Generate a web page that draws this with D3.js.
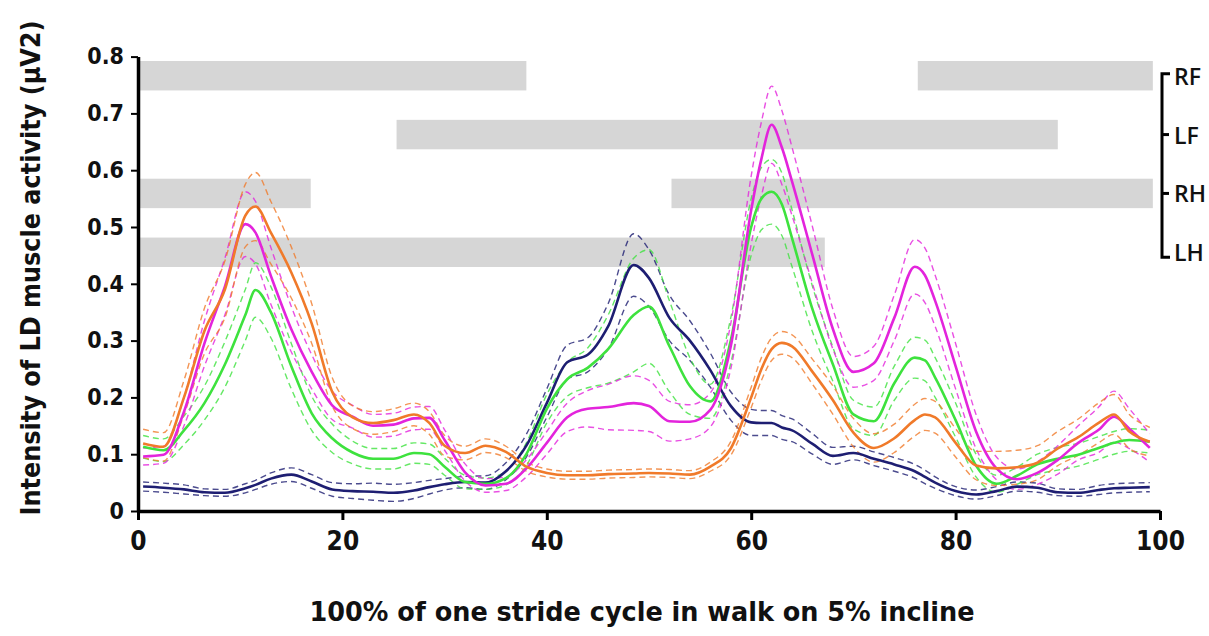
<!DOCTYPE html>
<html>
<head>
<meta charset="utf-8">
<script src="https://cdn.jsdelivr.net/npm/d3@7"></script>
<style>
  body { margin: 0; background: #fff; }
  .axis text { font-family: "Liberation Sans Narrow", "Arial Narrow", "DejaVu Sans Condensed", sans-serif; font-weight: bold; fill: #111; }
  .axis path, .axis line { stroke: #000; }
  .ttl { font-family: "Liberation Sans Narrow", "Arial Narrow", "DejaVu Sans Condensed", sans-serif; font-weight: bold; fill: #111; }
  .limb { font-family: "Open Sans", "Noto Sans", sans-serif; font-weight: 600; fill: #111; }
</style>
</head>
<body>
<div id="chart"></div>
<script>
// % of stride cycle (shared sample points)
var stride = [0.5, 2.5, 4.5, 6.5, 8.5, 10.5, 11.5, 13, 15, 17, 19, 21, 23, 25, 27,
  28.5, 30, 32, 34, 36, 38, 40, 42, 44, 46, 48.5, 50, 52, 54, 56,
  58, 60, 61, 62, 63, 64, 66, 68, 70, 72, 74, 76, 77, 78, 80,
  82, 84, 86, 88, 90, 92, 94, 95.5, 97, 99];

// mean LD intensity per series
var orangeMean = [0.119, 0.113, 0.2, 0.317, 0.39, 0.52, 0.536, 0.49, 0.42, 0.33, 0.21, 0.165, 0.155, 0.16, 0.17,
  0.155, 0.115, 0.102, 0.115, 0.104, 0.078, 0.067, 0.063, 0.063, 0.065, 0.066, 0.067, 0.066, 0.064, 0.078,
  0.11, 0.2, 0.25, 0.285, 0.296, 0.29, 0.245, 0.195, 0.138, 0.111, 0.128, 0.16, 0.17, 0.165, 0.12,
  0.08, 0.075, 0.077, 0.085, 0.11, 0.13, 0.155, 0.17, 0.14, 0.122];
var magentaMean = [0.096, 0.099, 0.175, 0.295, 0.395, 0.505, 0.49, 0.414, 0.32, 0.245, 0.186, 0.166, 0.15, 0.152, 0.163,
  0.164, 0.125, 0.068, 0.045, 0.048, 0.075, 0.12, 0.165, 0.18, 0.183, 0.19, 0.185, 0.158, 0.157, 0.178,
  0.29, 0.53, 0.62, 0.68, 0.64, 0.58, 0.45, 0.32, 0.245, 0.26, 0.34, 0.43, 0.415, 0.37, 0.255,
  0.14, 0.075, 0.056, 0.067, 0.09, 0.12, 0.143, 0.166, 0.145, 0.111];
var greenMean = [0.113, 0.107, 0.142, 0.19, 0.258, 0.345, 0.389, 0.35, 0.255, 0.172, 0.128, 0.103, 0.092, 0.092, 0.102,
  0.1, 0.078, 0.051, 0.048, 0.058, 0.1, 0.18, 0.232, 0.252, 0.285, 0.345, 0.36, 0.29, 0.22, 0.193,
  0.3, 0.5, 0.55, 0.562, 0.54, 0.48, 0.355, 0.258, 0.17, 0.158, 0.225, 0.27, 0.265, 0.235, 0.16,
  0.08, 0.048, 0.062, 0.082, 0.092, 0.099, 0.111, 0.12, 0.125, 0.122];
var navyMean = [0.043, 0.041, 0.038, 0.033, 0.032, 0.04, 0.046, 0.057, 0.064, 0.052, 0.038, 0.035, 0.034, 0.032, 0.036,
  0.042, 0.047, 0.051, 0.05, 0.07, 0.115, 0.19, 0.262, 0.275, 0.325, 0.433, 0.41, 0.34, 0.3, 0.248,
  0.185, 0.156, 0.155, 0.155, 0.147, 0.142, 0.118, 0.097, 0.102, 0.092, 0.082, 0.07, 0.06, 0.05, 0.035,
  0.029, 0.035, 0.043, 0.041, 0.033, 0.032, 0.037, 0.04, 0.041, 0.042];

// standard error (dashed lines = mean +/- SE)
var orangeSE = [0.025, 0.025, 0.03, 0.04, 0.05, 0.055, 0.06, 0.055, 0.045, 0.035, 0.025, 0.02, 0.02, 0.02, 0.02,
  0.02, 0.018, 0.012, 0.012, 0.01, 0.008, 0.007, 0.007, 0.007, 0.007, 0.007, 0.007, 0.007, 0.007, 0.008,
  0.012, 0.018, 0.02, 0.02, 0.02, 0.02, 0.022, 0.025, 0.025, 0.025, 0.025, 0.028, 0.028, 0.028, 0.025,
  0.025, 0.03, 0.03, 0.03, 0.03, 0.032, 0.035, 0.035, 0.03, 0.025];
var magentaSE = [0.015, 0.015, 0.025, 0.04, 0.05, 0.057, 0.055, 0.05, 0.04, 0.03, 0.025, 0.02, 0.02, 0.02, 0.02,
  0.02, 0.018, 0.015, 0.012, 0.012, 0.015, 0.02, 0.025, 0.032, 0.04, 0.048, 0.045, 0.035, 0.03, 0.03,
  0.04, 0.06, 0.065, 0.068, 0.065, 0.06, 0.05, 0.035, 0.027, 0.03, 0.04, 0.048, 0.048, 0.045, 0.04,
  0.03, 0.02, 0.018, 0.02, 0.025, 0.03, 0.04, 0.045, 0.035, 0.025];
var greenSE = [0.02, 0.02, 0.025, 0.03, 0.04, 0.045, 0.048, 0.045, 0.04, 0.03, 0.025, 0.02, 0.018, 0.018, 0.018,
  0.018, 0.015, 0.012, 0.01, 0.012, 0.02, 0.025, 0.03, 0.035, 0.06, 0.1, 0.1, 0.08, 0.05, 0.03,
  0.04, 0.05, 0.055, 0.057, 0.055, 0.05, 0.04, 0.03, 0.025, 0.025, 0.03, 0.036, 0.036, 0.035, 0.03,
  0.02, 0.015, 0.015, 0.018, 0.02, 0.02, 0.02, 0.02, 0.02, 0.02];
var navySE = [0.008, 0.008, 0.008, 0.006, 0.006, 0.008, 0.008, 0.01, 0.012, 0.012, 0.012, 0.013, 0.015, 0.015, 0.014,
  0.012, 0.01, 0.01, 0.012, 0.015, 0.02, 0.025, 0.03, 0.03, 0.04, 0.055, 0.05, 0.04, 0.035, 0.03,
  0.025, 0.023, 0.022, 0.022, 0.021, 0.02, 0.018, 0.015, 0.012, 0.012, 0.012, 0.012, 0.012, 0.01, 0.008,
  0.008, 0.008, 0.008, 0.008, 0.006, 0.006, 0.008, 0.008, 0.008, 0.008];

// stance phases of each limb (% of stride)
var limbs = ["RF", "LF", "RH", "LH"];
var stance = [["RF", 0, 38], ["RF", 76.3, 99.3], ["LF", 25.3, 90],
  ["RH", 0, 16.9], ["RH", 52.2, 99.3], ["LH", 0, 67.2]];

var xTicks = [0, 20, 40, 60, 80, 100];
var yTicks = [0, 0.1, 0.2, 0.3, 0.4, 0.5, 0.6, 0.7, 0.8];

var series = [
  {color: "#1e1e72", mean: navyMean, se: navySE},
  {color: "#3ee23e", mean: greenMean, se: greenSE},
  {color: "#e324dc", mean: magentaMean, se: magentaSE},
  {color: "#f07a2a", mean: orangeMean, se: orangeSE}
];

var svgWidth = 1209, svgHeight = 636;

var svg = d3.select("#chart").append("svg")
  .attr("width", svgWidth)
  .attr("height", svgHeight)
  .style("background", "#fff");

var x = d3.scaleLinear().domain([0, 100]).range([138, 1160]);
var y = d3.scaleLinear().domain([0, 0.8]).range([511, 56.6]);

// gray stance bars
var band = d3.scaleBand().domain(limbs).range([61, 267]).paddingInner(0.5).paddingOuter(0);

svg.append("g").selectAll("rect")
  .data(stance)
  .enter().append("rect")
  .attr("x", d => x(d[1]))
  .attr("width", d => x(d[2]) - x(d[1]))
  .attr("y", d => band(d[0]))
  .attr("height", band.bandwidth())
  .attr("fill", "#d6d6d6");

// lines
var line = d3.line().curve(d3.curveMonotoneX);

var lines = svg.append("g");
series.forEach(function(s) {
  var hi = stride.map((v, i) => [x(v), y(s.mean[i] + s.se[i])]);
  var lo = stride.map((v, i) => [x(v), y(Math.max(0, s.mean[i] - s.se[i]))]);
  [hi, lo].forEach(function(pts) {
    lines.append("path")
      .attr("d", line(pts))
      .attr("fill", "none")
      .attr("stroke", s.color)
      .attr("stroke-width", 1.4)
      .attr("stroke-opacity", 0.8)
      .attr("stroke-dasharray", "6,4");
  });
});
series.forEach(function(s) {
  lines.append("path")
    .attr("d", line(stride.map((v, i) => [x(v), y(s.mean[i])])))
    .attr("fill", "none")
    .attr("stroke", s.color)
    .attr("stroke-width", 2.6);
});

// axes
var xAxis = svg.append("g")
  .attr("class", "axis")
  .attr("transform", "translate(0," + y(0) + ")")
  .call(d3.axisBottom(x).tickValues(xTicks).tickFormat(d3.format("d")).tickSize(9).tickSizeOuter(0).tickPadding(12));
xAxis.select(".domain").attr("stroke-width", 3.5);
xAxis.selectAll(".tick line").attr("stroke-width", 3);
xAxis.selectAll("text").style("font-size", "26px");

var yAxis = svg.append("g")
  .attr("class", "axis")
  .attr("transform", "translate(" + x(0) + ",0)")
  .call(d3.axisLeft(y).tickValues(yTicks).tickFormat(d => d === 0 ? "0" : d3.format(".1f")(d)).tickSize(7).tickSizeOuter(0).tickPadding(7));
yAxis.select(".domain").attr("stroke-width", 3.5);
yAxis.selectAll(".tick line").attr("stroke-width", 2);
yAxis.selectAll("text").style("font-size", "23px");

// axis titles
svg.append("text")
  .attr("class", "ttl")
  .attr("x", 642)
  .attr("y", 621)
  .attr("text-anchor", "middle")
  .attr("textLength", 665)
  .attr("lengthAdjust", "spacingAndGlyphs")
  .style("font-size", "27px")
  .text("100% of one stride cycle in walk on 5% incline");

svg.append("text")
  .attr("class", "ttl")
  .attr("transform", "translate(40,268) rotate(-90)")
  .attr("text-anchor", "middle")
  .attr("textLength", 495)
  .attr("lengthAdjust", "spacingAndGlyphs")
  .style("font-size", "26px")
  .text("Intensity of LD muscle activity (\u03bcV2)");

// limb bracket
var bx = 1162, bt = band("RF") + band.bandwidth() / 2 - 2, bb = band("LH") + band.bandwidth() / 2 + 5;
var bracket = svg.append("g").attr("stroke", "#000").attr("stroke-width", 3).attr("fill", "none");
bracket.append("path").attr("d", d3.line()([[bx + 8, bt], [bx, bt], [bx, bb], [bx + 8, bb]]));
["LF", "RH"].forEach(function(k) {
  var cy = band(k) + band.bandwidth() / 2;
  bracket.append("line").attr("x1", bx).attr("x2", bx + 7).attr("y1", cy).attr("y2", cy);
});

svg.append("g").selectAll("text")
  .data(limbs)
  .enter().append("text")
  .attr("class", "limb")
  .attr("x", 1174)
  .attr("y", d => band(d) + band.bandwidth() / 2 + 9)
  .style("font-size", "23px")
  .text(d => d);
</script>
</body>
</html>
